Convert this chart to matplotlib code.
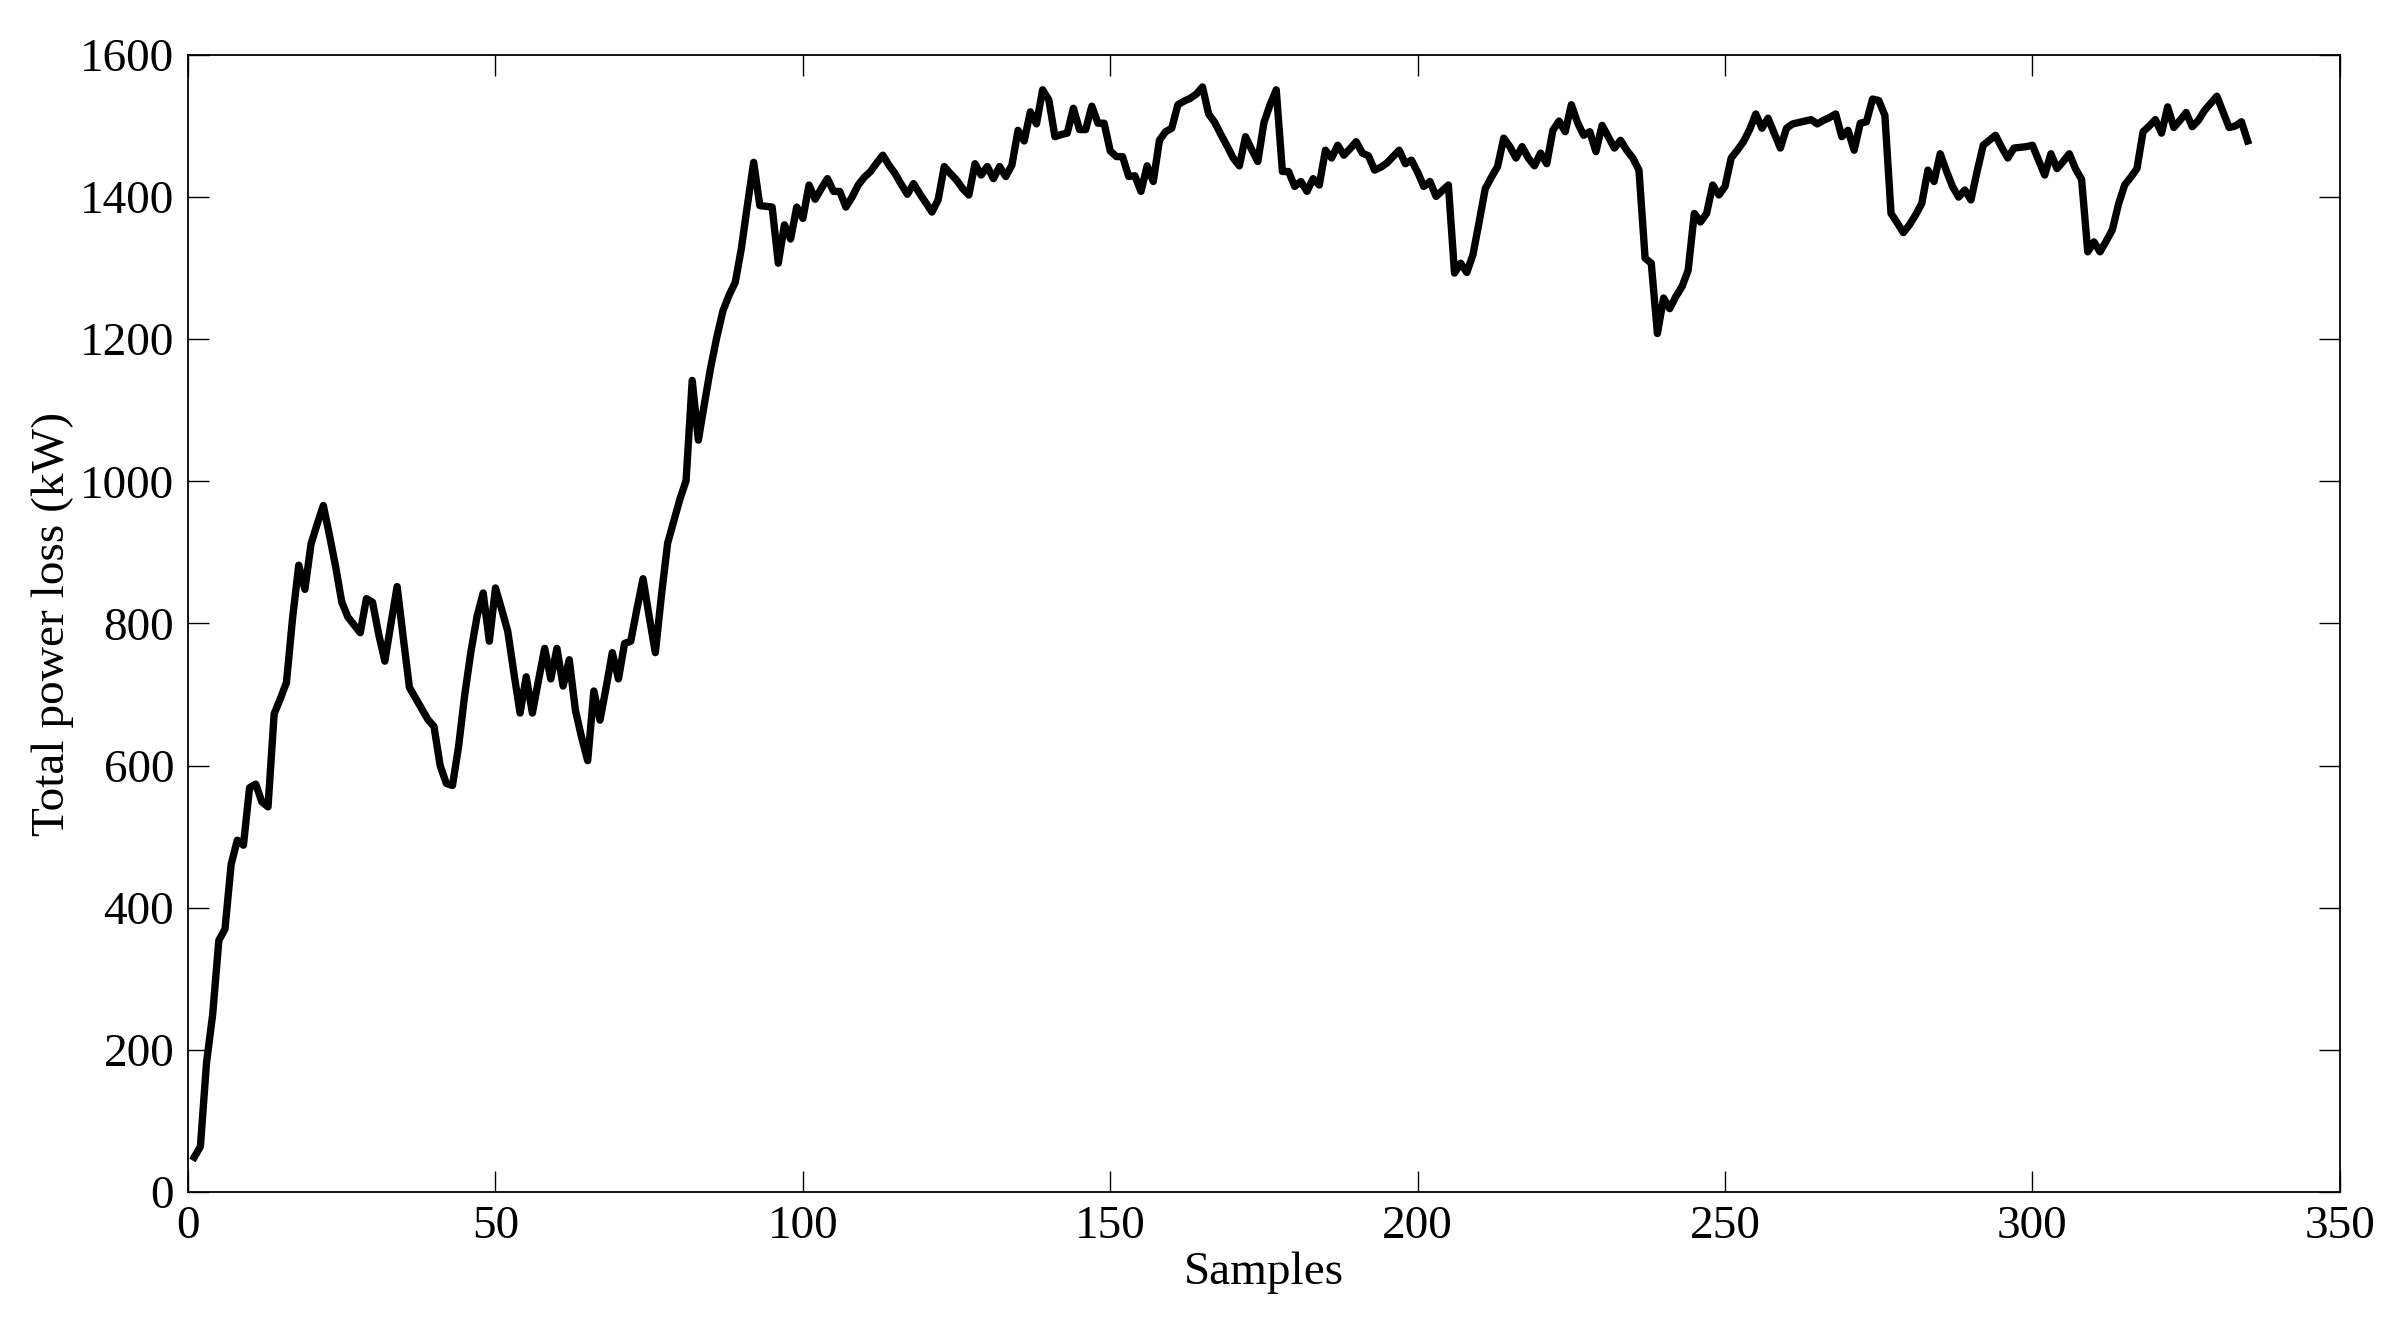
import matplotlib
matplotlib.use("Agg")
import matplotlib.pyplot as plt
import numpy as np

plt.rcParams['font.family'] = ['Liberation Serif', 'DejaVu Serif']

# total power loss per sample (kW)
loss_1_43 = [49, 64, 182, 250, 354, 370, 461, 495, 488, 569,
             574, 549, 542, 673, 694, 717, 808, 882, 848, 912,
             940, 966, 924, 880, 830, 809, 798, 787, 835, 830,
             785, 747, 800, 852, 780, 710, 695, 680, 665, 655,
             600, 575, 572]
loss_44_93 = [627, 700, 760, 810, 843, 775, 850, 820, 789, 730,
              674, 725, 674, 720, 765, 722, 765, 712, 749, 678,
              640, 607, 705, 664, 710, 759, 722, 772, 775, 820,
              863, 810, 759, 840, 913, 944, 975, 1001, 1142, 1058,
              1110, 1160, 1203, 1240, 1262, 1280, 1328, 1390, 1449, 1388]
loss_94_151 = [1387, 1386, 1307, 1361, 1341, 1386, 1370, 1417, 1397, 1412,
               1426, 1408, 1408, 1386, 1400, 1417, 1428, 1436, 1448, 1459,
               1445, 1433, 1418, 1404, 1419, 1405, 1392, 1379, 1396, 1443,
               1433, 1424, 1412, 1403, 1447, 1431, 1443, 1426, 1443, 1429,
               1445, 1494, 1479, 1520, 1503, 1551, 1537, 1485, 1488, 1490,
               1525, 1495, 1495, 1528, 1504, 1504, 1465, 1457]
loss_152_215 = [1457, 1429, 1430, 1408, 1444, 1422, 1480, 1492, 1497, 1530,
                1535, 1539, 1545, 1555, 1517, 1505, 1488, 1472, 1455, 1444,
                1485, 1467, 1450, 1505, 1530, 1551, 1436, 1436, 1415, 1422,
                1408, 1426, 1417, 1466, 1455, 1473, 1459, 1468, 1478, 1462,
                1458, 1438, 1442, 1448, 1457, 1466, 1447, 1452, 1435, 1415,
                1422, 1401, 1409, 1417, 1293, 1307, 1294, 1319, 1365, 1412,
                1428, 1443, 1483, 1471]
loss_216_276 = [1455, 1471, 1455, 1444, 1462, 1447, 1494, 1507, 1492, 1530,
                1505, 1487, 1492, 1464, 1501, 1485, 1469, 1480, 1466, 1455,
                1438, 1314, 1307, 1208, 1258, 1243, 1260, 1274, 1297, 1377,
                1365, 1377, 1417, 1403, 1415, 1455, 1466, 1478, 1495, 1517,
                1497, 1511, 1490, 1469, 1497, 1503, 1505, 1507, 1509, 1503,
                1508, 1512, 1517, 1485, 1494, 1466, 1504, 1506, 1538, 1536,
                1515]
loss_277_335 = [1377, 1364, 1350, 1361, 1375, 1391, 1438, 1422, 1461, 1437,
                1415, 1400, 1410, 1396, 1436, 1473, 1480, 1487, 1470, 1455,
                1469, 1470, 1471, 1473, 1452, 1431, 1461, 1440, 1450, 1461,
                1440, 1425, 1323, 1337, 1323, 1338, 1354, 1390, 1417, 1428,
                1440, 1492, 1500, 1509, 1490, 1527, 1498, 1508, 1519, 1499,
                1508, 1522, 1532, 1542, 1520, 1498, 1500, 1506, 1479]

loss = loss_1_43 + loss_44_93 + loss_94_151 + loss_152_215 + loss_216_276 + loss_277_335
samples = np.arange(1, len(loss) + 1)

x_ticks = [0, 50, 100, 150, 200, 250, 300, 350]
y_ticks = [0, 200, 400, 600, 800, 1000, 1200, 1400, 1600]

fig = plt.figure(figsize=(23.9, 13.28), dpi=100)
ax = fig.add_axes([0.0787, 0.1024, 0.9003, 0.8562])

ax.plot(samples, loss, color="black", linewidth=5.3, solid_joinstyle="round")

ax.set_xlim(0, 350)
ax.set_ylim(0, 1600)
ax.set_xticks(x_ticks)
ax.set_yticks(y_ticks)
ax.tick_params(direction="in", length=15, width=1, top=True, right=True,
               labelsize=34, pad=10)
for s in ax.spines.values():
    s.set_linewidth(1.3)

ax.set_xlabel("Samples", fontsize=34, labelpad=2)
ax.set_ylabel("Total power loss (kW)", fontsize=34, labelpad=4)

fig.savefig("out.png", dpi=100)
